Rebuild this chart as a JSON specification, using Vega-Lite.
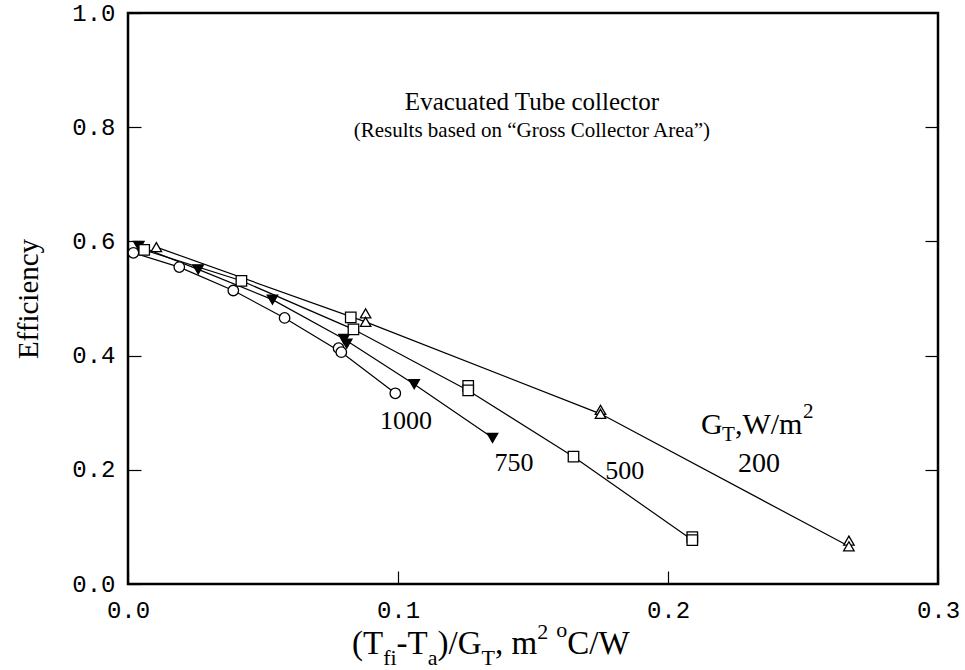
{
  "$schema": "https://vega.github.io/schema/vega-lite/v6.json",
  "width": 810,
  "height": 571,
  "autosize": {"type": "none"},
  "padding": {"left": 128, "top": 13, "right": 27, "bottom": 86},
  "background": "white",
  "config": {
    "view": {"stroke": "black", "strokeWidth": 2.5},
    "axis": {
      "domain": false,
      "grid": false,
      "tickColor": "black",
      "tickWidth": 1.2,
      "tickSize": -13,
      "labelFlush": false,
      "labelFont": "Liberation Mono",
      "labelFontSize": 24,
      "labelColor": "black",
      "titleFont": "Liberation Serif",
      "titleFontWeight": "normal",
      "titleColor": "black"
    },
    "text": {"font": "Liberation Serif", "color": "black", "baseline": "alphabetic"}
  },
  "datasets": {
    "pts": [
      {"x": 0.002, "y": 0.580, "G": "1000", "l": 1},
      {"x": 0.019, "y": 0.555, "G": "1000", "l": 1},
      {"x": 0.039, "y": 0.514, "G": "1000", "l": 1},
      {"x": 0.058, "y": 0.466, "G": "1000", "l": 1},
      {"x": 0.078, "y": 0.413, "G": "1000", "l": 0},
      {"x": 0.079, "y": 0.406, "G": "1000", "l": 1},
      {"x": 0.099, "y": 0.334, "G": "1000", "l": 1},
      {"x": 0.004, "y": 0.592, "G": "750", "l": 1},
      {"x": 0.026, "y": 0.551, "G": "750", "l": 1},
      {"x": 0.0535, "y": 0.498, "G": "750", "l": 1},
      {"x": 0.080, "y": 0.429, "G": "750", "l": 1},
      {"x": 0.081, "y": 0.421, "G": "750", "l": 0},
      {"x": 0.106, "y": 0.350, "G": "750", "l": 1},
      {"x": 0.135, "y": 0.256, "G": "750", "l": 1},
      {"x": 0.006, "y": 0.585, "G": "500", "l": 1},
      {"x": 0.042, "y": 0.531, "G": "500", "l": 1},
      {"x": 0.0825, "y": 0.467, "G": "500", "l": 0},
      {"x": 0.0835, "y": 0.446, "G": "500", "l": 1},
      {"x": 0.126, "y": 0.347, "G": "500", "l": 0},
      {"x": 0.126, "y": 0.339, "G": "500", "l": 1},
      {"x": 0.165, "y": 0.223, "G": "500", "l": 1},
      {"x": 0.209, "y": 0.082, "G": "500", "l": 0},
      {"x": 0.209, "y": 0.077, "G": "500", "l": 1},
      {"x": 0.0105, "y": 0.590, "G": "200", "l": 1},
      {"x": 0.088, "y": 0.474, "G": "200", "l": 0},
      {"x": 0.088, "y": 0.459, "G": "200", "l": 1},
      {"x": 0.175, "y": 0.305, "G": "200", "l": 0},
      {"x": 0.175, "y": 0.298, "G": "200", "l": 1},
      {"x": 0.267, "y": 0.076, "G": "200", "l": 0},
      {"x": 0.267, "y": 0.066, "G": "200", "l": 1}
    ]
  },
  "resolve": {"axis": {"x": "independent", "y": "independent"}},
  "layer": [
    {
      "data": {"values": [{}]},
      "layer": [
        {
          "data": {"name": "pts"},
          "transform": [{"filter": "datum.l == 1"}],
          "mark": {"type": "line", "color": "black", "strokeWidth": 1.2},
          "encoding": {
            "x": {"field": "x", "type": "quantitative", "scale": {"domain": [0, 0.3], "nice": false, "zero": false},
                  "axis": {"orient": "bottom", "values": [0, 0.1, 0.2, 0.3], "format": ".1f", "title": null, "labelPadding": 27}},
            "y": {"field": "y", "type": "quantitative", "scale": {"domain": [0, 1], "nice": false, "zero": false},
                  "axis": {"orient": "left", "values": [0, 0.2, 0.4, 0.6, 0.8, 1.0], "format": ".1f", "title": "Efficiency", "titleFontSize": 29, "titlePadding": 28, "labelPadding": 26}},
            "detail": {"field": "G", "type": "nominal"}
          }
        },
        {
          "data": {"name": "pts"},
          "mark": {"type": "point", "filled": true, "stroke": "black", "strokeWidth": 1.3, "size": 110, "opacity": 1},
          "encoding": {
            "x": {"field": "x", "type": "quantitative"},
            "y": {"field": "y", "type": "quantitative"},
            "shape": {"field": "G", "type": "nominal", "scale": {"domain": ["1000", "750", "500", "200"], "range": ["circle", "triangle-down", "square", "triangle-up"]}, "legend": null},
            "fill": {"field": "G", "type": "nominal", "scale": {"domain": ["1000", "750", "500", "200"], "range": ["white", "black", "white", "white"]}, "legend": null}
          }
        },
        {"mark": {"type": "text", "fontSize": 25, "align": "center"},
         "encoding": {"x": {"datum": 0.1496, "type": "quantitative"}, "y": {"datum": 0.830, "type": "quantitative"}, "text": {"value": "Evacuated Tube collector"}}},
        {"mark": {"type": "text", "fontSize": 21, "align": "center"},
         "encoding": {"x": {"datum": 0.1496, "type": "quantitative"}, "y": {"datum": 0.783, "type": "quantitative"}, "text": {"value": "(Results based on “Gross Collector Area”)"}}},
        {"mark": {"type": "text", "fontSize": 26, "align": "center"},
         "encoding": {"x": {"datum": 0.103, "type": "quantitative"}, "y": {"datum": 0.271, "type": "quantitative"}, "text": {"value": "1000"}}},
        {"mark": {"type": "text", "fontSize": 26, "align": "center"},
         "encoding": {"x": {"datum": 0.143, "type": "quantitative"}, "y": {"datum": 0.198, "type": "quantitative"}, "text": {"value": "750"}}},
        {"mark": {"type": "text", "fontSize": 26, "align": "center"},
         "encoding": {"x": {"datum": 0.184, "type": "quantitative"}, "y": {"datum": 0.184, "type": "quantitative"}, "text": {"value": "500"}}},
        {"mark": {"type": "text", "fontSize": 28, "align": "center"},
         "encoding": {"x": {"datum": 0.2337, "type": "quantitative"}, "y": {"datum": 0.196, "type": "quantitative"}, "text": {"value": "200"}}},
        {"mark": {"type": "text", "fontSize": 30, "align": "left"},
         "encoding": {"x": {"datum": 0.2122, "type": "quantitative"}, "y": {"datum": 0.2627, "type": "quantitative"}, "text": {"value": "G"}}},
        {"mark": {"type": "text", "fontSize": 21, "align": "left"},
         "encoding": {"x": {"datum": 0.2200, "type": "quantitative"}, "y": {"datum": 0.2504, "type": "quantitative"}, "text": {"value": "T"}}},
        {"mark": {"type": "text", "fontSize": 30, "align": "left"},
         "encoding": {"x": {"datum": 0.2248, "type": "quantitative"}, "y": {"datum": 0.2627, "type": "quantitative"}, "text": {"value": ",W/m"}}},
        {"mark": {"type": "text", "fontSize": 21, "align": "left"},
         "encoding": {"x": {"datum": 0.2500, "type": "quantitative"}, "y": {"datum": 0.2907, "type": "quantitative"}, "text": {"value": "2"}}},
        {"mark": {"type": "text", "fontSize": 33, "align": "left"},
         "encoding": {"x": {"datum": 0.08296, "type": "quantitative"}, "y": {"datum": -0.1226, "type": "quantitative"}, "text": {"value": "(T"}}},
        {"mark": {"type": "text", "fontSize": 22, "align": "left"},
         "encoding": {"x": {"datum": 0.09452, "type": "quantitative"}, "y": {"datum": -0.1419, "type": "quantitative"}, "text": {"value": "fi"}}},
        {"mark": {"type": "text", "fontSize": 33, "align": "left"},
         "encoding": {"x": {"datum": 0.09948, "type": "quantitative"}, "y": {"datum": -0.1226, "type": "quantitative"}, "text": {"value": "-T"}}},
        {"mark": {"type": "text", "fontSize": 22, "align": "left"},
         "encoding": {"x": {"datum": 0.1110, "type": "quantitative"}, "y": {"datum": -0.1419, "type": "quantitative"}, "text": {"value": "a"}}},
        {"mark": {"type": "text", "fontSize": 33, "align": "left"},
         "encoding": {"x": {"datum": 0.11467, "type": "quantitative"}, "y": {"datum": -0.1226, "type": "quantitative"}, "text": {"value": ")/G"}}},
        {"mark": {"type": "text", "fontSize": 22, "align": "left"},
         "encoding": {"x": {"datum": 0.13093, "type": "quantitative"}, "y": {"datum": -0.1419, "type": "quantitative"}, "text": {"value": "T"}}},
        {"mark": {"type": "text", "fontSize": 33, "align": "left"},
         "encoding": {"x": {"datum": 0.13593, "type": "quantitative"}, "y": {"datum": -0.1226, "type": "quantitative"}, "text": {"value": ", m"}}},
        {"mark": {"type": "text", "fontSize": 22, "align": "left"},
         "encoding": {"x": {"datum": 0.15156, "type": "quantitative"}, "y": {"datum": -0.0963, "type": "quantitative"}, "text": {"value": "2"}}},
        {"mark": {"type": "text", "fontSize": 22, "align": "left"},
         "encoding": {"x": {"datum": 0.15859, "type": "quantitative"}, "y": {"datum": -0.0928, "type": "quantitative"}, "text": {"value": "o"}}},
        {"mark": {"type": "text", "fontSize": 33, "align": "left"},
         "encoding": {"x": {"datum": 0.16267, "type": "quantitative"}, "y": {"datum": -0.1226, "type": "quantitative"}, "text": {"value": "C/W"}}}
      ]
    },
    {
      "data": {"values": [{}]},
      "mark": {"type": "point", "opacity": 0},
      "encoding": {
        "x": {"datum": 0, "type": "quantitative", "axis": null},
        "y": {"datum": 0, "type": "quantitative", "axis": {"orient": "right", "values": [0.2, 0.4, 0.6, 0.8], "labels": false, "title": null}}
      }
    }
  ]
}
